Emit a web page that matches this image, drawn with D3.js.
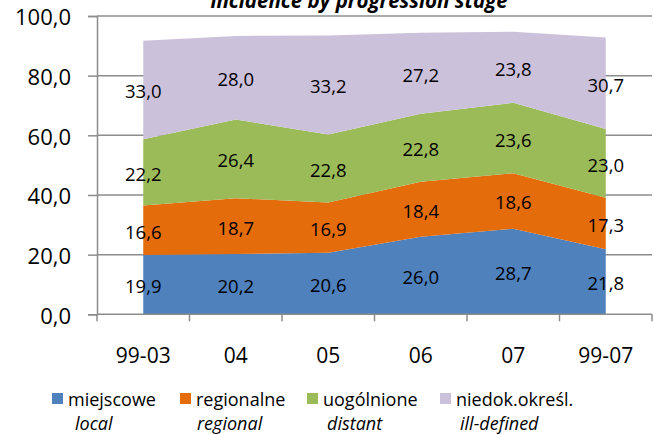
<!DOCTYPE html>
<html>
<head>
<meta charset="utf-8">
<script src="https://cdn.jsdelivr.net/npm/d3@7"></script>
<style>
  html, body { margin: 0; padding: 0; background: #fff; }
  svg { display: block; font-family: "Open Sans", sans-serif; }
</style>
</head>
<body>
<svg id="chart" width="654" height="434"></svg>
<script>
const categories = ["99-03", "04", "05", "06", "07", "99-07"];
const seriesKeys = ["local", "regional", "distant", "illDefined"];
const local      = [19.9, 20.2, 20.6, 26.0, 28.7, 21.8];
const regional   = [16.6, 18.7, 16.9, 18.4, 18.6, 17.3];
const distant    = [22.2, 26.4, 22.8, 22.8, 23.6, 23.0];
const illDefined = [33.0, 28.0, 33.2, 27.2, 23.8, 30.7];
const legendPl = ["miejscowe", "regionalne", "uogólnione", "niedok.określ."];
const legendEn = ["local", "regional", "distant", "ill-defined"];
const yTicks = [0, 20, 40, 60, 80, 100];
const title = "incidence by progression stage";

const colors = ["#4F81BD", "#E46C0A", "#9BBB59", "#CCC1DA"];
const gridColor = "#8C8C8C";

const seriesData = { local, regional, distant, illDefined };
const rows = categories.map((c, i) => {
  const r = { cat: c };
  seriesKeys.forEach(k => r[k] = seriesData[k][i]);
  return r;
});

const svg = d3.select("#chart");
const mLeft = 97, mRight = 652, mTop = 16, mBottom = 314.3;

const xBand = d3.scaleBand().domain(categories).range([mLeft, mRight]).padding(0);
const xPos = c => xBand(c) + xBand.bandwidth() / 2;
const y = d3.scaleLinear().domain([0, 100]).range([mBottom, mTop]);

// gridlines
svg.append("g").selectAll("line").data(yTicks.filter(t => t > 0)).join("line")
  .attr("x1", mLeft).attr("x2", mRight)
  .attr("y1", d => y(d)).attr("y2", d => y(d))
  .attr("stroke", gridColor).attr("stroke-width", 1.5);

// stacked areas
const stack = d3.stack().keys(seriesKeys);
const layers = stack(rows);
const area = d3.area()
  .x(d => xPos(d.data.cat))
  .y0(d => y(d[0]))
  .y1(d => y(d[1]));
svg.append("g").selectAll("path").data(layers).join("path")
  .attr("d", area)
  .attr("fill", (d, i) => colors[i]);

// y axis
const yAxis = d3.axisLeft(y).tickValues(yTicks).tickSize(9).tickPadding(17)
  .tickFormat(d => d3.format(".1f")(d).replace(".", ","));
const gy = svg.append("g").attr("transform", `translate(${mLeft},0)`).call(yAxis);
gy.select(".domain").attr("stroke", gridColor).attr("stroke-width", 1.5);
gy.selectAll(".tick line").attr("stroke", gridColor).attr("stroke-width", 1.5);
gy.selectAll(".tick text").attr("fill", "#000").style("font-size", "22px")
  .attr("font-family", "Open Sans").attr("dy", "0.40em");

// x axis
const xAxis = d3.axisBottom(xBand).tickSize(0).tickPadding(34);
const gx = svg.append("g").attr("transform", `translate(0,${mBottom})`).call(xAxis);
gx.select(".domain").remove();
gx.selectAll(".tick text").attr("fill", "#000").style("font-size", "21px")
  .attr("font-family", "Open Sans");
svg.append("line").attr("x1", mLeft).attr("x2", mRight).attr("y1", mBottom).attr("y2", mBottom)
  .attr("stroke", gridColor).attr("stroke-width", 1.5);
const edges = categories.map(c => xBand(c)).concat([mRight]);
svg.append("g").selectAll("line").data(edges).join("line")
  .attr("x1", d => d).attr("x2", d => d)
  .attr("y1", mBottom).attr("y2", mBottom + 7)
  .attr("stroke", gridColor).attr("stroke-width", 1.5);

// data labels
const fmt = v => d3.format(".1f")(v).replace(".", ",");
layers.forEach(layer => {
  svg.append("g").selectAll("text").data(layer).join("text")
    .attr("x", d => xPos(d.data.cat))
    .attr("y", d => y((d[0] + d[1]) / 2) + 1)
    .attr("text-anchor", "middle")
    .attr("dominant-baseline", "central")
    .style("font-size", "18.5px")
    .attr("fill", "#000")
    .text(d => fmt(d[1] - d[0]));
});

// title (clipped at the top edge, as in the reference)
svg.append("text").attr("x", 359).attr("y", 8).attr("text-anchor", "middle")
  .style("font-size", "20.5px").style("font-weight", "bold").style("font-style", "italic")
  .attr("fill", "#000").text(title);

// legend
const sqX = [52, 180, 307, 440];
const enX = [75, 197, 327, 460];
const lg = svg.append("g");
legendPl.forEach((t, i) => {
  lg.append("rect").attr("x", sqX[i]).attr("y", 393).attr("width", 11).attr("height", 11)
    .attr("fill", colors[i]);
  lg.append("text").attr("x", sqX[i] + 16).attr("y", 406)
    .style("font-size", "18px").attr("fill", "#000").text(t);
  lg.append("text").attr("x", enX[i]).attr("y", 430)
    .style("font-size", "18px").style("font-style", "italic").attr("fill", "#000").text(legendEn[i]);
});
</script>
</body>
</html>
